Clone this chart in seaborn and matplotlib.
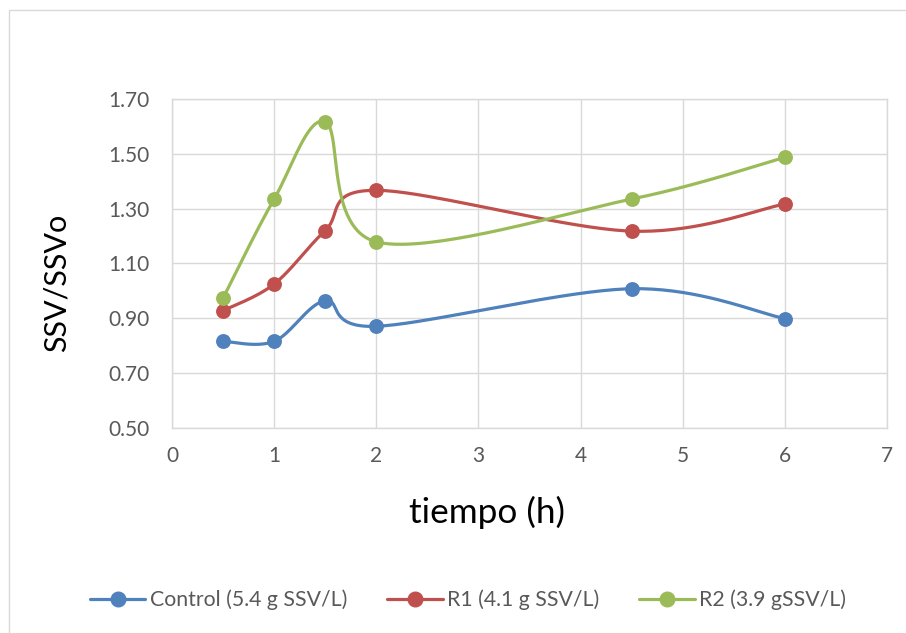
import numpy as np
import pandas as pd
import matplotlib
matplotlib.use("Agg")
import matplotlib.pyplot as plt
from matplotlib.lines import Line2D
from matplotlib.patches import Rectangle
import seaborn as sns

# ---- data ----
tiempo = [0.5, 1, 1.5, 2, 4.5, 6]
control = [0.816, 0.816, 0.964, 0.871, 1.008, 0.899]
r1 = [0.928, 1.025, 1.220, 1.367, 1.218, 1.317]
r2 = [0.974, 1.335, 1.617, 1.179, 1.335, 1.487]
series_names = ["Control (5.4 g SSV/L)", "R1 (4.1 g SSV/L)", "R2 (3.9 gSSV/L)"]
colors = ["#4F81BD", "#C0504D", "#9BBB59"]
y_ticks = [0.5, 0.7, 0.9, 1.1, 1.3, 1.5, 1.7]
x_ticks = [0, 1, 2, 3, 4, 5, 6, 7]

sns.set_theme(style="white")
plt.rcParams["font.family"] = ["Lato", "DejaVu Sans"]

W, H = 906, 633
fig = plt.figure(figsize=(W / 100, H / 100), dpi=100)
L, R, T, B = 172, 887, 99, 428
ax = fig.add_axes([L / W, 1 - B / H, (R - L) / W, (B - T) / H])

# pixel scales for Excel-like smoothing
sx = (R - L) / 7.0
sy = (B - T) / 1.2


def smooth(xs, ys, n=40):
    P = np.column_stack([np.asarray(xs) * sx, np.asarray(ys) * sy])
    out = []
    t = np.linspace(0, 1, n)[:, None]
    for i in range(len(P) - 1):
        p0 = P[i - 1] if i > 0 else P[i]
        p1, p2 = P[i], P[i + 1]
        p3 = P[i + 2] if i + 2 < len(P) else P[i + 1]
        c1 = p1 + (p2 - p0) / 6
        c2 = p2 - (p3 - p1) / 6
        seg = (1 - t) ** 3 * p1 + 3 * (1 - t) ** 2 * t * c1 + 3 * (1 - t) * t ** 2 * c2 + t ** 3 * p2
        out.append(seg if i == 0 else seg[1:])
    S = np.vstack(out)
    return S[:, 0] / sx, S[:, 1] / sy


for name, vals, col in zip(series_names, [control, r1, r2], colors):
    cx, cy = smooth(tiempo, vals)
    dfc = pd.DataFrame({"x": cx, "y": cy})
    sns.lineplot(data=dfc, x="x", y="y", sort=False, estimator=None, color=col,
                 lw=2.3, ax=ax, legend=False)
    dfp = pd.DataFrame({"x": tiempo, "y": vals})
    sns.scatterplot(data=dfp, x="x", y="y", color=col, s=115, edgecolor=col,
                    linewidth=0, ax=ax, legend=False, zorder=5)

ax.set_xlim(0, 7)
ax.set_ylim(0.5, 1.7)
ax.set_xticks(x_ticks)
ax.set_yticks(y_ticks)
ax.set_yticklabels([f"{v:.2f}" for v in y_ticks])
ax.set_xticklabels([str(v) for v in x_ticks])
ax.grid(True, color="#d9d9d9", lw=1.0)
ax.set_axisbelow(True)
for s in ax.spines.values():
    s.set_color("#d9d9d9")
    s.set_linewidth(1.0)
ax.tick_params(axis="both", length=0, labelsize=15, colors="#595959")
ax.tick_params(axis="y", pad=16)
ax.tick_params(axis="x", pad=13)
ax.set_xlabel("")
ax.set_ylabel("")

fig.text(487 / W, 1 - 512 / H, "tiempo (h)", fontsize=25.3, color="black",
         ha="center", va="center")
fig.text(57 / W, 1 - 283 / H, "SSV/SSVo", fontsize=22, color="black",
         ha="center", va="center", rotation=90)

fs = 15.3
handles = [Line2D([], [], color=c, lw=2.3, marker="o", markersize=10.5) for c in colors]
leg = fig.legend(handles, series_names, loc="center", bbox_to_anchor=(468 / W, 1 - 600 / H),
                 ncol=3, frameon=False, fontsize=fs, handlelength=2.6,
                 handletextpad=0.2, columnspacing=1.9)
for t in leg.get_texts():
    t.set_color("#595959")

fig.patches.append(Rectangle((9 / W, -0.1), 1.2, 0.1 + (1 - 10 / H),
                             transform=fig.transFigure, fill=False,
                             edgecolor="#d9d9d9", lw=1.0))
fig.savefig("out.png", dpi=100)
